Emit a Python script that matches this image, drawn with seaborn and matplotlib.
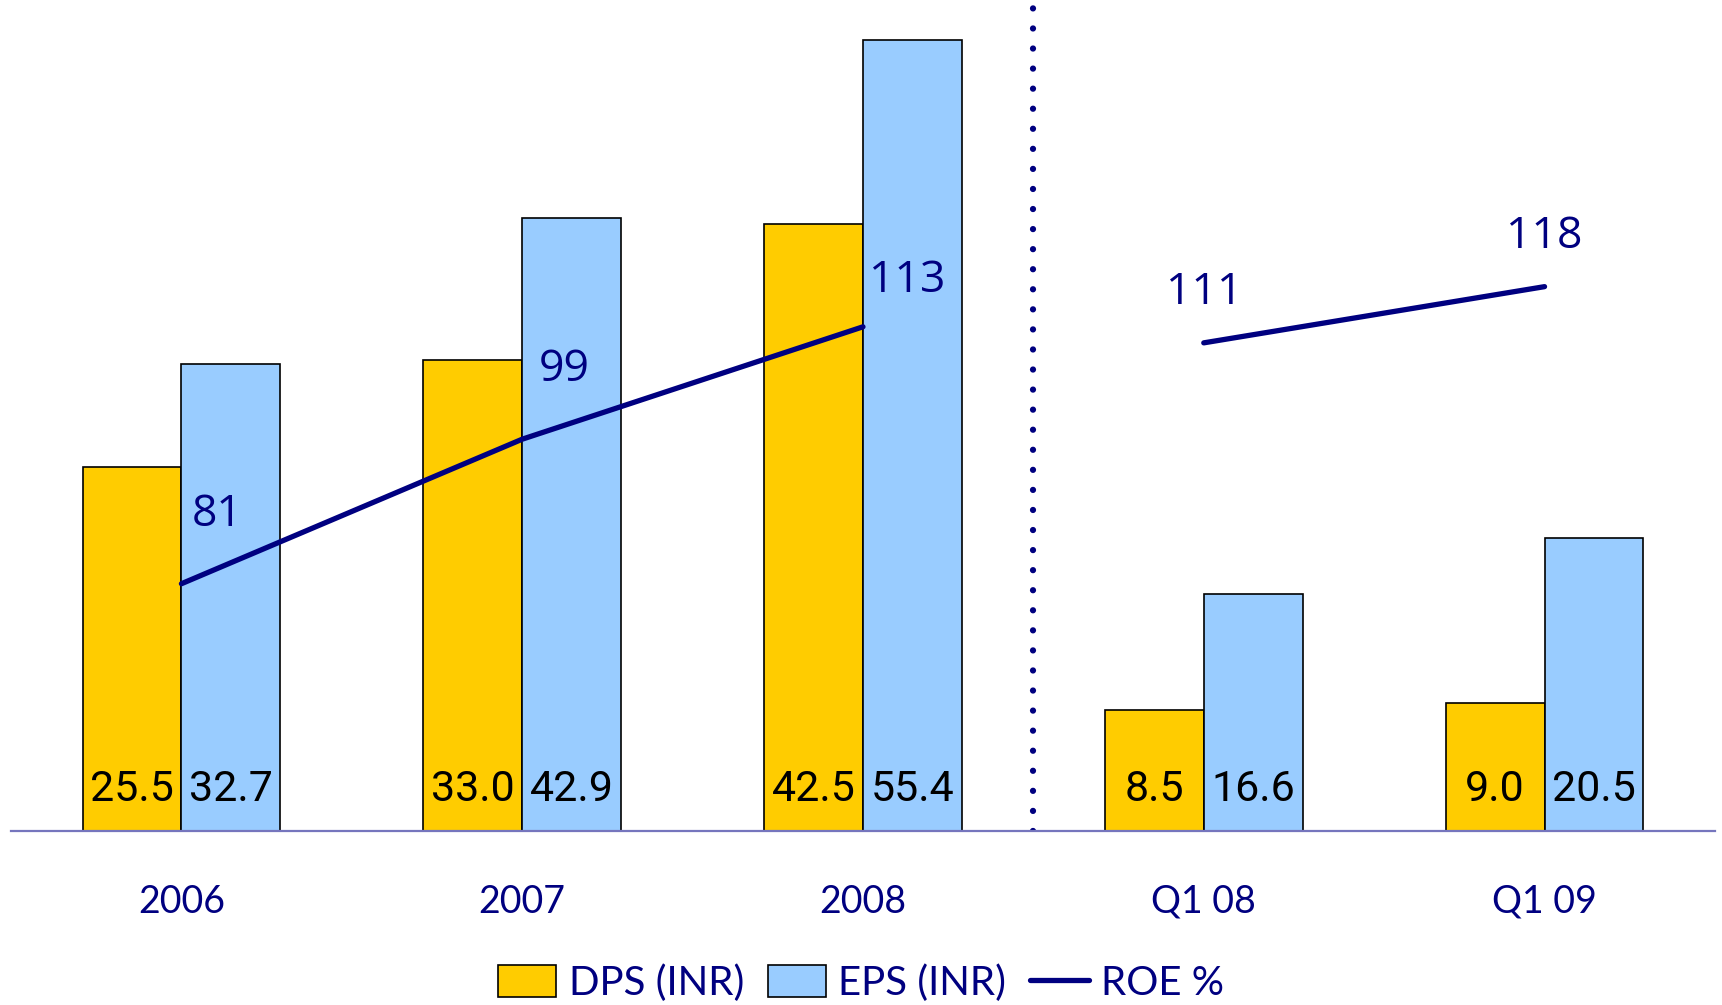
import numpy as np
import pandas as pd
import matplotlib
matplotlib.use("Agg")
import matplotlib.pyplot as plt
from matplotlib.patches import Patch
from matplotlib.lines import Line2D
import seaborn as sns

# Data
periods = ["2006", "2007", "2008", "Q1 08", "Q1 09"]
dps = [25.5, 33.0, 42.5, 8.5, 9.0]
eps = [32.7, 42.9, 55.4, 16.6, 20.5]
roe = [81, 99, 113, 111, 118]
roe_segment = ["annual", "annual", "annual", "quarter", "quarter"]

NAVY = "#000080"
YELLOW = "#FFCC00"
LIGHT_BLUE = "#99CCFF"

sns.set_theme(style="white")
plt.rcParams["font.family"] = ["Roboto", "DejaVu Sans"]

bars = pd.DataFrame({
    "period": periods * 2,
    "metric": ["DPS (INR)"] * len(periods) + ["EPS (INR)"] * len(periods),
    "value": dps + eps,
})
line = pd.DataFrame({"pos": np.arange(len(periods)), "roe": roe, "segment": roe_segment})

fig = plt.figure(figsize=(17.22, 10.05), dpi=100)
ax = fig.add_axes([0.0064, 0.1731, 0.9895, 0.8269])

sns.barplot(data=bars, x="period", y="value", hue="metric", order=periods,
            palette=[YELLOW, LIGHT_BLUE], saturation=1, edgecolor="black",
            linewidth=1.2, width=0.58, gap=0, legend=False, ax=ax)
ax.set_xlim(-0.5, 4.5)
ax.set_ylim(0, 58.2)

# value labels at the bottom of each bar
for cont in ax.containers:
    for rect in cont:
        h = rect.get_height()
        ax.annotate(f"{h:.1f}", (rect.get_x() + rect.get_width() / 2, 0),
                    xytext=(0, 30), textcoords="offset points",
                    ha="center", va="center", fontsize=31, color="black",
                    family=["Roboto", "DejaVu Sans"])

# divider between annual and quarterly figures
ax.axvline(2.5, ymin=0, ymax=0.995, color=NAVY, linestyle=(0, (0.01, 3.2)),
           linewidth=4.5, dash_capstyle="round")

for side in ["left", "right", "top"]:
    ax.spines[side].set_visible(False)
ax.spines["bottom"].set_color("#7575BD")
ax.spines["bottom"].set_linewidth(1.6)
ax.set_yticks([])
ax.set_xlabel("")
ax.set_ylabel("")
ax.tick_params(axis="x", length=0, pad=38, labelsize=27, labelcolor=NAVY)
for t in ax.get_xticklabels():
    t.set_family(["Lato", "DejaVu Sans"])

# ROE on its own scale
ax2 = ax.twinx()
sns.lineplot(data=line, x="pos", y="roe", units="segment", estimator=None,
             color=NAVY, linewidth=3.8, ax=ax2, legend=False,
             solid_capstyle="round")
ax2.set_xlim(-0.5, 4.5)
ax2.set_ylim(50.2, 153.7)
ax2.set_yticks([])
ax2.set_ylabel("")
ax2.set_xlabel("")
for side in ["left", "right", "top", "bottom"]:
    ax2.spines[side].set_visible(False)

label_offsets = [(26, 50), (30, 50), (32, 33), (0, 36), (0, 36)]
for x, v, off in zip(line["pos"], line["roe"], label_offsets):
    ax2.annotate(f"{v}", (x, v), xytext=off, textcoords="offset points",
                 ha="center", va="center", fontsize=32, color=NAVY,
                 family=["Open Sans", "DejaVu Sans"])

handles = [
    Patch(facecolor=YELLOW, edgecolor="black", linewidth=1.2, label="DPS (INR)"),
    Patch(facecolor=LIGHT_BLUE, edgecolor="black", linewidth=1.2, label="EPS (INR)"),
    Line2D([0], [0], color=NAVY, linewidth=3.8, label="ROE %"),
]
fig.legend(handles=handles, loc="center", bbox_to_anchor=(0.5, 0.022),
           ncol=3, frameon=False, labelcolor=NAVY,
           handlelength=1.45, handleheight=0.85, handletextpad=0.3,
           columnspacing=0.6,
           prop={"family": ["Lato", "DejaVu Sans"], "size": 29})

fig.savefig("out.png", dpi=100)
